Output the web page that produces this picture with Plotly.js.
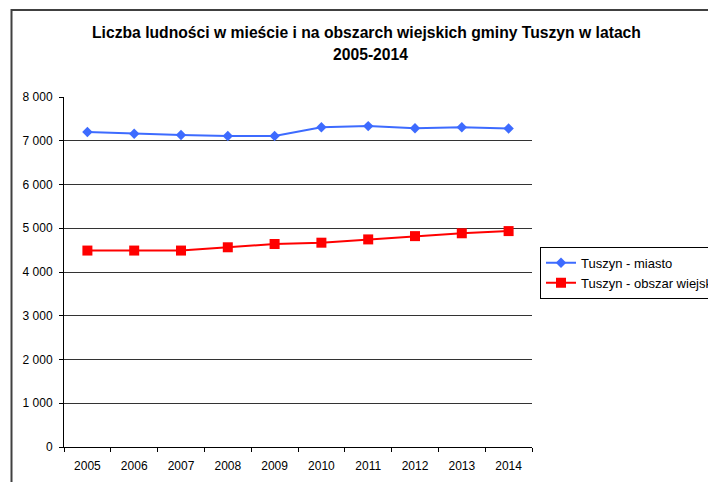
<!DOCTYPE html>
<html>
<head>
<meta charset="utf-8">
<script src="https://cdn.plot.ly/plotly-3.0.1.min.js"></script>
<style>
  html, body { margin: 0; padding: 0; background: #fff; }
</style>
</head>
<body>
<div id="myPlot" style="width:708px;height:482px;"></div>
<script>
// years on the category axis
var years = ['2005', '2006', '2007', '2008', '2009', '2010', '2011', '2012', '2013', '2014'];

// population of the town
var miasto = [7200, 7160, 7130, 7110, 7110, 7310, 7335, 7285, 7310, 7280];

// population of the rural area
var wies = [4490, 4490, 4490, 4565, 4640, 4670, 4745, 4820, 4885, 4935];

var font = 'Arial, "Liberation Sans", sans-serif';

// blue line with diamonds
var Miasto = {
    type: 'scatter',
    x: years,
    y: miasto,
    mode: 'lines+markers',
    name: 'Tuszyn - miasto',
    line: { color: '#3d6bff', width: 2 },
    marker: { color: '#3d6bff', size: 8, symbol: 'diamond' }
}

// red line with squares
var Wies = {
    type: 'scatter',
    x: years,
    y: wies,
    mode: 'lines+markers',
    name: 'Tuszyn - obszar wiejski',
    line: { color: '#ff0000', width: 2 },
    marker: { color: '#ff0000', size: 10, symbol: 'square' }
}

var data = [Miasto, Wies]

var layout = {
    width: 708,
    height: 482,
    margin: { l: 64, r: 176, t: 97, b: 35, autoexpand: false },
    paper_bgcolor: '#fff',
    plot_bgcolor: '#fff',
    separators: ', ',  // space as thousands separator
    font: { family: font, size: 12, color: '#000' },
    showlegend: true,
    legend: {
        x: (540 - 64) / 468, xanchor: 'left',
        y: 0.572, yanchor: 'top',
        bordercolor: '#000',
        borderwidth: 1,
        bgcolor: '#fff',
        itemwidth: 30,
        font: { family: font, size: 13, color: '#000' },
        tracegroupgap: 0
    },
    xaxis: {
        type: 'category',
        range: [-0.5, 9.5],  // no marker padding
        showgrid: false,
        zeroline: false,
        showline: true,
        linecolor: '#000',
        linewidth: 1,
        ticks: 'outside',
        tickson: 'boundaries',
        ticklen: 4,
        tickcolor: '#000',
        ticklabelstandoff: 8,
        tickfont: { family: font, size: 12, color: '#000' }
    },
    yaxis: {
        range: [0, 8000],
        dtick: 1000,
        tickformat: ',d',
        showgrid: true,
        gridcolor: '#333',
        gridwidth: 1,
        zeroline: false,
        showline: true,
        linecolor: '#000',
        linewidth: 1,
        ticks: 'outside',
        ticklen: 4,
        tickcolor: '#000',
        ticklabelstandoff: 4,
        tickfont: { family: font, size: 12, color: '#000' }
    },
    annotations: [
        {
            // title, first line
            text: '<b>Liczba ludności w mieście i na obszarch wiejskich gminy Tuszyn w latach</b>',
            xref: 'paper', yref: 'paper',
            x: (366 - 64) / 468, y: (447 - 22) / 350,
            xanchor: 'center', yanchor: 'top',
            showarrow: false,
            font: { family: font, size: 15.7, color: '#000' }
        },
        {
            // title, second line
            text: '<b>2005-2014</b>',
            xref: 'paper', yref: 'paper',
            x: (370 - 64) / 468, y: (447 - 44) / 350,
            xanchor: 'center', yanchor: 'top',
            showarrow: false,
            font: { family: font, size: 15.7, color: '#000' }
        }
    ],
    shapes: [
        {
            // outer chart frame (cut off by the screenshot on the right and bottom)
            type: 'rect',
            xref: 'paper', yref: 'paper',
            x0: (11.5 - 64) / 468, x1: 2,
            y0: -0.5, y1: (447 - 10) / 350,
            line: { color: '#404040', width: 2 },
            layer: 'below'
        }
    ]
}

Plotly.newPlot('myPlot', data, layout, { displayModeBar: false, staticPlot: true });
</script>
</body>
</html>
